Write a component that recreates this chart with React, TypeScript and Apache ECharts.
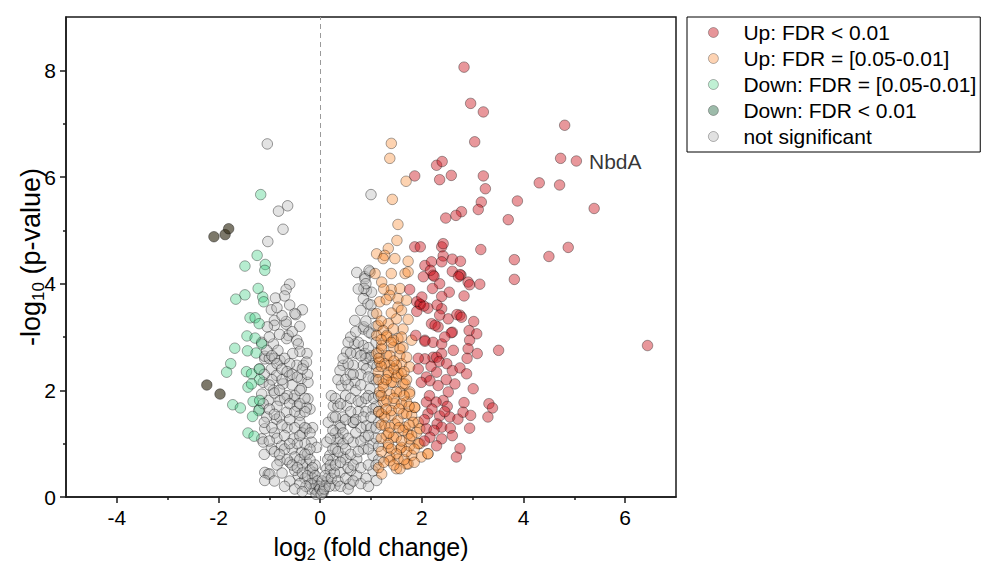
import React, { useEffect, useRef } from "react";
import * as echarts from "echarts";

const FONT = "'Liberation Sans', Arial, sans-serif";

const xMajorTicks = [-4, -2, 0, 2, 4, 6];
const xMinorTicks = [-3, -1, 1, 3, 5];
const yMajorTicks = [0, 2, 4, 6, 8];
const yMinorTicks = [1, 3, 5, 7];

const legendNames = [
  "Up: FDR < 0.01",
  "Up: FDR = [0.05-0.01]",
  "Down: FDR = [0.05-0.01]",
  "Down: FDR < 0.01",
  "not significant",
];

const labelledGene = { name: "NbdA", x: 5.04, y: 6.3 };

const upStrong = [
  [2.83, 8.06], [2.96, 7.38], [3.21, 7.22], [4.81, 6.97], [3.04, 6.66], [4.73, 6.35],
  [2.29, 6.22], [2.40, 6.29], [1.86, 6.02], [2.58, 6.03], [2.35, 5.95], [3.21, 6.02],
  [3.25, 5.78], [4.31, 5.89], [4.71, 5.85], [3.88, 5.55], [3.17, 5.53], [3.11, 5.39],
  [5.39, 5.41], [2.78, 5.35], [2.67, 5.28], [2.47, 5.23], [3.70, 5.20], [1.86, 4.69],
  [1.97, 4.69], [2.39, 4.69], [2.42, 4.75], [3.16, 4.64], [3.82, 4.45], [4.50, 4.51],
  [4.88, 4.68], [3.82, 4.08], [6.44, 2.84], [3.51, 2.75], [2.06, 4.34], [2.19, 4.41],
  [2.42, 4.52], [2.60, 4.46], [2.76, 4.42], [2.77, 4.16], [2.22, 4.16], [2.03, 4.13],
  [2.91, 4.03], [3.14, 3.99], [2.35, 4.00], [2.21, 3.91], [2.54, 3.84], [2.39, 3.76],
  [2.83, 3.77], [1.96, 3.62], [2.12, 3.54], [2.75, 3.41], [2.52, 3.34], [3.02, 3.29],
  [2.19, 3.25], [2.32, 3.19], [2.93, 3.12], [3.08, 3.06], [2.60, 3.09], [1.88, 3.03],
  [2.06, 2.94], [2.94, 2.94], [2.91, 2.78], [3.09, 2.69], [2.22, 2.62], [2.39, 2.69],
  [2.06, 2.59], [2.39, 4.41], [2.17, 4.25], [2.60, 4.23], [2.75, 4.17], [2.72, 4.13],
  [2.24, 4.14], [2.94, 3.98], [1.76, 3.89], [1.90, 3.66], [1.97, 3.61], [2.04, 3.58],
  [1.90, 3.48], [2.39, 3.53], [2.35, 3.41], [2.69, 3.42], [2.78, 3.37], [2.26, 3.22],
  [2.06, 2.92], [2.22, 2.90], [2.58, 3.08], [2.39, 2.87], [1.93, 2.60], [2.29, 2.62],
  [2.34, 2.54], [2.49, 2.50], [1.93, 2.40], [2.60, 2.37], [2.75, 2.42], [2.89, 2.60],
  [2.88, 2.31], [2.29, 2.34], [2.09, 2.25], [1.99, 2.15], [2.16, 2.18], [2.32, 2.09],
  [2.65, 2.12], [2.52, 1.97], [3.01, 2.03], [2.42, 1.81], [2.09, 1.78], [2.28, 1.78],
  [2.50, 1.70], [2.83, 1.77], [3.32, 1.75], [3.39, 1.67], [2.12, 1.56], [2.35, 1.52],
  [2.55, 1.50], [2.71, 1.46], [2.81, 1.59], [2.96, 1.53], [3.30, 1.50], [2.30, 1.37],
  [2.39, 1.31], [2.09, 1.28], [2.24, 1.25], [2.56, 1.29], [2.94, 1.29], [2.16, 1.12],
  [2.39, 1.09], [2.29, 0.96], [2.75, 0.91], [2.68, 0.75],
  [2.05, 1.45], [2.20, 1.65], [2.15, 1.90], [2.45, 1.60], [2.05, 1.05], [2.60, 1.15],
  [2.00, 3.75], [2.30, 3.60], [2.48, 2.20], [2.18, 2.45], [2.62, 2.75], [2.45, 3.00],
];

const upModerate = [
  [1.40, 6.63], [1.37, 6.35], [1.69, 5.92], [1.42, 5.58], [1.53, 5.11], [1.51, 4.81],
  [1.34, 4.66], [1.11, 4.56], [1.27, 4.53], [1.47, 4.47], [1.73, 4.42], [1.24, 4.47],
  [1.08, 4.19], [1.40, 4.19], [1.67, 4.19], [1.73, 4.22], [1.21, 4.03], [1.40, 3.89],
  [1.57, 3.91], [1.37, 3.78], [1.53, 3.72], [1.17, 3.66], [1.70, 3.69], [1.53, 3.56],
  [1.11, 3.44], [1.50, 3.34], [1.73, 3.33], [1.34, 3.25], [1.14, 3.22], [1.63, 3.15],
  [1.24, 3.12], [1.44, 3.15], [1.80, 2.94], [1.11, 3.03], [1.31, 3.00], [1.53, 2.97],
  [1.21, 2.84], [1.44, 2.81], [1.63, 2.81], [1.11, 2.69], [1.31, 2.65], [1.57, 2.65],
  [1.17, 2.53], [1.37, 2.47], [1.60, 2.50], [1.14, 2.34], [1.34, 2.28], [1.53, 2.31],
  [1.24, 2.12], [1.44, 2.15], [1.63, 2.12], [1.17, 1.97], [1.37, 1.93], [1.57, 1.97],
  [1.76, 1.97], [1.24, 1.78], [1.47, 1.75], [1.70, 1.78], [1.86, 1.68], [1.21, 1.56],
  [1.40, 1.53], [1.63, 1.56], [1.80, 1.53], [1.27, 1.34], [1.47, 1.37], [1.67, 1.31],
  [1.93, 1.40], [1.31, 1.15], [1.50, 1.12], [1.73, 1.18], [1.90, 1.21], [1.34, 0.93],
  [1.57, 0.90], [1.76, 0.96], [1.96, 1.00], [1.37, 0.75], [1.53, 0.71], [1.73, 0.62],
  [2.12, 0.81], [1.50, 0.53], [1.21, 0.43], [1.99, 0.75], [1.31, 3.03], [1.44, 2.94],
  [1.21, 2.78], [1.57, 2.78], [1.37, 2.65], [1.70, 2.62], [1.27, 2.50], [1.50, 2.47],
  [1.76, 2.44], [1.34, 2.34], [1.60, 2.31], [1.40, 2.15], [1.67, 2.12], [1.24, 2.06],
  [1.50, 1.97], [1.76, 1.93], [1.31, 1.81], [1.60, 1.75], [1.86, 1.68], [1.40, 1.62],
  [1.70, 1.56], [1.27, 1.50], [1.53, 1.43], [1.83, 1.40], [1.37, 1.31], [1.63, 1.25],
  [1.96, 1.28], [1.44, 1.12], [1.76, 1.09], [1.34, 1.00], [1.60, 0.93], [1.93, 1.00],
  [1.50, 0.81], [1.80, 0.78], [2.12, 0.81], [1.37, 0.68], [1.70, 0.62], [1.57, 0.53],
  [1.15, 0.55], [1.25, 0.65], [1.45, 0.60], [1.65, 0.70], [1.85, 0.65], [1.20, 0.85],
  [1.40, 0.90], [1.70, 0.85], [1.85, 0.90], [1.20, 1.10], [1.35, 1.20], [1.60, 1.05],
  [1.80, 1.15], [1.20, 1.35], [1.55, 1.30], [1.75, 1.35], [1.15, 1.60], [1.30, 1.65],
  [1.55, 1.65], [1.75, 1.70], [1.20, 1.90], [1.45, 1.85], [1.65, 1.90], [1.15, 2.20],
  [1.30, 2.20], [1.50, 2.25], [1.70, 2.20], [1.20, 2.45], [1.45, 2.40], [1.65, 2.35],
  [1.15, 2.60], [1.45, 2.55], [1.20, 2.95], [1.40, 2.90], [1.60, 3.00], [1.20, 3.30],
  [1.40, 3.45], [1.60, 3.50], [1.30, 3.70], [1.25, 3.90],
];

const downModerate = [
  [-1.17, 5.67], [-1.24, 4.53], [-1.48, 4.33], [-1.08, 4.36], [-1.09, 4.25], [-1.22, 3.91],
  [-1.48, 3.79], [-1.66, 3.71], [-1.13, 3.75], [-1.11, 3.66], [-1.38, 3.36], [-1.28, 3.36],
  [-1.20, 3.25], [-1.44, 3.02], [-1.28, 2.98], [-1.15, 2.87], [-1.68, 2.79], [-1.43, 2.74],
  [-1.26, 2.70], [-1.76, 2.50], [-1.84, 2.34], [-1.45, 2.35], [-1.35, 2.31], [-1.20, 2.40],
  [-1.19, 2.20], [-1.42, 2.06], [-1.35, 2.12], [-1.32, 1.79], [-1.19, 1.81], [-1.72, 1.73],
  [-1.57, 1.67], [-1.21, 1.62], [-1.33, 1.51], [-1.42, 1.20], [-1.30, 1.14],
];

const downStrong = [
  [-2.09, 4.88], [-1.87, 4.92], [-1.80, 5.03], [-2.23, 2.10], [-1.97, 1.93],
];

const notSignificant = [
  [-1.04, 6.62], [-0.82, 5.36], [-0.64, 5.46], [-0.73, 5.02], [-1.03, 4.79], [-0.60, 3.99],
  [-0.67, 3.89], [-0.88, 3.73], [-0.70, 3.77], [-0.96, 3.51], [-0.35, 3.51], [-0.48, 3.42],
  [-0.90, 3.31], [-0.90, 3.22], [-0.67, 3.24], [-1.04, 3.19], [-0.50, 3.44], [-0.67, 3.29],
  [-0.46, 2.94], [-0.63, 3.03], [-0.26, 2.69], [-0.33, 2.47], [-0.37, 2.22], [-0.24, 1.84],
  [-0.20, 1.65], [-1.09, 2.59], [-1.15, 1.09], [-1.09, 0.46], [-1.02, 0.43],
  [-1.09, 2.64], [-0.92, 2.87], [-0.66, 2.97], [-0.43, 2.87], [-0.40, 2.73], [-0.54, 2.69],
  [-0.79, 2.56], [-0.96, 2.40], [-0.60, 2.28], [-0.24, 2.15], [-0.37, 2.03], [-0.73, 2.12],
  [-0.92, 2.00], [-1.02, 1.81], [-0.79, 1.81], [-0.53, 1.84], [-0.27, 1.68], [-0.40, 1.53],
  [-0.66, 1.59], [-0.86, 1.46], [-1.09, 1.28], [-1.12, 1.03], [-0.96, 0.90], [-0.76, 0.96],
  [-0.53, 1.09], [-0.27, 1.28], [-0.17, 1.03], [-0.07, 0.93], [-0.37, 0.84], [-0.60, 0.65],
  [-0.79, 0.68], [-0.99, 0.43], [-1.09, 0.31], [-0.27, 0.65], [-0.14, 0.46], [-0.07, 0.21],
  [-0.43, 0.40], [-0.20, 0.15], [-1.15, 1.93], [-1.19, 1.65], [-1.19, 2.40], [-1.12, 2.15],
  [-0.86, 2.28], [-0.46, 2.47], [-0.27, 2.53], [-0.83, 2.75],
  [-0.05, 0.10], [-0.10, 0.25], [-0.15, 0.35], [-0.20, 0.50], [-0.25, 0.80], [-0.30, 1.00],
  [-0.35, 1.20], [-0.40, 1.40], [-0.45, 1.70], [-0.50, 1.90], [-0.55, 2.10], [-0.60, 2.50],
  [-0.70, 2.60], [-0.75, 2.20], [-0.80, 1.50], [-0.85, 1.70], [-0.90, 1.20], [-0.95, 2.20],
  [-1.00, 2.60], [-1.05, 1.50], [-0.65, 1.30], [-0.55, 0.90], [-0.45, 1.00], [-0.35, 0.60],
  [-0.30, 0.35], [-0.20, 0.90], [-0.15, 1.30], [-0.10, 0.60], [-0.50, 0.50], [-0.70, 0.90],
  [-0.85, 0.60], [-1.10, 0.80], [-0.90, 2.60], [-0.65, 1.90], [-0.40, 2.00], [-0.30, 1.60],
  [-0.25, 2.30],
  [-1.15, 2.90], [-1.05, 2.75], [-0.95, 2.65], [-0.85, 2.50], [-0.75, 2.40], [-0.65, 2.35],
  [-0.55, 2.30], [-0.45, 2.25], [-0.35, 2.40], [-1.10, 2.30], [-1.00, 2.10], [-0.90, 1.95],
  [-0.80, 2.00], [-0.70, 1.85], [-0.60, 1.75], [-0.50, 1.60], [-0.40, 1.75], [-0.30, 1.85],
  [-1.12, 1.75], [-1.00, 1.65], [-0.90, 1.55], [-0.75, 1.35], [-0.60, 1.45], [-0.50, 1.30],
  [-0.40, 1.15], [-0.30, 1.30], [-0.20, 1.20], [-1.10, 1.40], [-0.95, 1.30], [-0.85, 1.10],
  [-0.70, 1.15], [-0.60, 1.00], [-0.50, 0.75], [-0.40, 0.70], [-0.30, 0.80], [-0.20, 0.70],
  [-1.00, 1.05], [-0.90, 0.85], [-0.80, 0.80], [-0.65, 0.70], [-0.55, 0.60], [-0.45, 0.55],
  [-0.35, 0.45], [-0.25, 0.40], [-0.15, 0.55], [-0.10, 0.40], [-0.05, 0.30], [-0.12, 0.15],
  [-0.08, 0.05], [-0.02, 0.20], [-0.18, 0.25], [-0.28, 0.20], [-0.40, 0.25], [-0.60, 0.30],
  [-0.75, 0.45], [-0.90, 0.30], [-0.70, 0.20], [-0.50, 0.15], [-0.35, 0.10], [-1.00, 3.00],
  [-0.80, 3.05], [-0.55, 3.10], [-0.40, 3.20], [-0.75, 3.40], [-0.60, 3.60], [-0.85, 3.55],
  [1.00, 5.67], [0.72, 4.21], [0.88, 4.13], [0.98, 4.22], [0.91, 3.87], [1.01, 3.84],
  [0.85, 3.72], [0.94, 3.62], [1.04, 3.44], [0.68, 3.31], [0.85, 3.15], [1.01, 3.06],
  [0.68, 2.87], [0.85, 2.84], [0.52, 2.72], [0.72, 2.69], [0.98, 2.62], [0.45, 2.47],
  [0.65, 2.47], [0.85, 2.47], [1.04, 2.50], [0.96, 4.25], [0.88, 4.09], [0.86, 3.91],
  [0.86, 3.19], [0.96, 3.09],
  [0.88, 2.69], [0.39, 2.37], [0.91, 2.40], [0.22, 1.90], [0.42, 2.09], [0.68, 2.15],
  [0.98, 2.03], [0.26, 1.71], [0.52, 1.71], [0.81, 1.78], [1.04, 1.65], [0.16, 1.40],
  [0.39, 1.34], [0.65, 1.40], [0.91, 1.34], [0.13, 1.03], [0.39, 1.09], [0.65, 1.03],
  [0.88, 1.12], [1.04, 1.00], [0.19, 0.78], [0.45, 0.75], [0.72, 0.71], [1.04, 0.78],
  [0.13, 0.53], [0.39, 0.46], [0.72, 0.40], [1.04, 0.49], [1.11, 0.31], [0.13, 0.28],
  [0.29, 0.21], [0.58, 0.24], [0.06, 0.09], [0.00, 0.15], [1.01, 2.65], [1.04, 2.22],
  [0.05, 0.10], [0.10, 0.20], [0.15, 0.35], [0.20, 0.50], [0.25, 0.70], [0.30, 0.90],
  [0.35, 1.10], [0.40, 1.30], [0.45, 1.50], [0.50, 1.90], [0.55, 2.10], [0.60, 2.30],
  [0.70, 2.00], [0.75, 1.60], [0.80, 1.30], [0.85, 0.90], [0.90, 1.60], [0.95, 1.90],
  [1.00, 1.30], [1.10, 1.10], [1.15, 0.70], [0.60, 0.50], [0.50, 0.70], [0.45, 1.00],
  [0.30, 1.20], [0.25, 1.50], [0.35, 1.70], [0.20, 1.10], [0.15, 0.70], [0.65, 1.40],
  [0.80, 2.30], [0.90, 2.60], [0.55, 2.50], [0.75, 2.90], [0.60, 3.00], [1.10, 2.20],
  [1.10, 1.70], [1.15, 1.40], [1.15, 2.70],
  [0.02, 0.05], [0.08, 0.15], [0.04, 0.30], [0.10, 0.40], [0.18, 0.20], [0.22, 0.35],
  [0.28, 0.45], [0.35, 0.30], [0.40, 0.20], [0.50, 0.35], [0.55, 0.15], [0.65, 0.30],
  [0.80, 0.25], [0.90, 0.35], [0.95, 0.20], [0.20, 0.60], [0.30, 0.60], [0.40, 0.65],
  [0.55, 0.55], [0.65, 0.60], [0.80, 0.55], [0.95, 0.60], [1.10, 0.60], [0.25, 0.90],
  [0.35, 0.85], [0.50, 0.90], [0.60, 0.80], [0.75, 0.85], [0.95, 0.90], [1.15, 0.95],
  [0.25, 1.25], [0.45, 1.20], [0.55, 1.10], [0.70, 1.20], [0.80, 1.05], [0.95, 1.15],
  [1.10, 1.30], [0.30, 1.50], [0.50, 1.45], [0.60, 1.60], [0.70, 1.45], [0.85, 1.50],
  [1.00, 1.50], [1.15, 1.60], [0.30, 1.85], [0.40, 1.75], [0.60, 1.85], [0.75, 1.80],
  [0.90, 1.85], [1.05, 1.85], [1.15, 1.90], [0.35, 2.20], [0.50, 2.20], [0.65, 2.30],
  [0.80, 2.10], [0.95, 2.25], [1.12, 2.45], [0.45, 2.60], [0.60, 2.70], [0.80, 2.65],
  [0.95, 2.80], [1.10, 2.90], [0.55, 2.90], [0.70, 3.10], [0.90, 3.30], [1.00, 3.60],
  [0.80, 3.50], [1.10, 3.20], [0.90, 4.00], [0.75, 3.90],
];

const seriesStyles = [
  { fill: "rgba(202,19,28,0.55)", border: "rgba(0,0,0,0.55)", legend: "#e07a80" },
  { fill: "rgba(250,133,40,0.45)", border: "rgba(0,0,0,0.55)", legend: "#fdc8a0" },
  { fill: "rgba(53,204,124,0.45)", border: "rgba(0,0,0,0.55)", legend: "#b0ecc9" },
  { fill: "rgba(50,44,22,0.8)", border: "rgba(0,0,0,0.6)", legend: "#84aa95" },
  { fill: "rgba(185,185,185,0.5)", border: "rgba(0,0,0,0.62)", legend: "#dadada" },
];

export default function App() {
  const ref = useRef<HTMLDivElement>(null);

  useEffect(() => {
    if (!ref.current) return;
    const chart = echarts.init(ref.current, null, { renderer: "svg" });

    const mkSeries = (idx: number, data: any[], extra: any = {}) => ({
      name: legendNames[idx],
      type: "scatter",
      data,
      symbol: "circle",
      symbolSize: 10.5,
      itemStyle: { color: seriesStyles[idx].fill, borderColor: seriesStyles[idx].border, borderWidth: 0.8 },
      emphasis: { disabled: true },
      ...extra,
    });

    const redData: any[] = upStrong.map((p) => p);
    redData.push({
      value: [labelledGene.x, labelledGene.y],
      label: {
        show: true,
        formatter: labelledGene.name,
        position: "right",
        distance: 7,
        fontSize: 21,
        fontFamily: FONT,
        color: "#000",
      },
    });

    const axisLineStyle = { color: "#1a1a1a", width: 1.5 };
    const xNameRich = {
      a: { fontSize: 25, lineHeight: 30, verticalAlign: "middle", fontFamily: FONT, color: "#000" },
      s: { fontSize: 16, lineHeight: 16, verticalAlign: "bottom", fontFamily: FONT, color: "#000" },
    };
    const yNameRich = {
      a: { fontSize: 27, lineHeight: 32, verticalAlign: "middle", fontFamily: FONT, color: "#000" },
      s: { fontSize: 17, lineHeight: 17, verticalAlign: "bottom", fontFamily: FONT, color: "#000" },
    };

    const option: any = {
      animation: false,
      backgroundColor: "#fff",
      grid: {
        left: 66,
        top: 17,
        width: 610,
        height: 481,
        show: true,
        borderColor: "#1a1a1a",
        borderWidth: 1.5,
        backgroundColor: "transparent",
      },
      xAxis: [
        {
          type: "value",
          min: -5,
          max: 7,
          position: "bottom",
          axisLine: { show: true, onZero: false, lineStyle: axisLineStyle },
          axisTick: { show: true, length: 6, customValues: xMajorTicks, lineStyle: axisLineStyle },
          axisLabel: { customValues: xMajorTicks, fontSize: 21, color: "#000", margin: 10, fontFamily: FONT },
          splitLine: { show: false },
          name: "{a|log}{s|2}{a| (fold change)}",
          nameLocation: "middle",
          nameGap: 35,
          nameMoveOverlap: false,
          nameTextStyle: { fontFamily: FONT, color: "#000", rich: xNameRich },
        },
        {
          type: "value",
          min: -5,
          max: 7,
          position: "bottom",
          axisLine: { show: false, onZero: false },
          axisTick: { show: true, length: 3, customValues: xMinorTicks, lineStyle: axisLineStyle },
          axisLabel: { show: false },
          splitLine: { show: false },
        },
      ],
      yAxis: [
        {
          type: "value",
          min: 0,
          max: 9,
          position: "left",
          axisLine: { show: true, onZero: false, lineStyle: axisLineStyle },
          axisTick: { show: true, length: 6, customValues: yMajorTicks, lineStyle: axisLineStyle },
          axisLabel: { customValues: yMajorTicks, fontSize: 21, color: "#000", margin: 10, fontFamily: FONT },
          splitLine: { show: false },
          name: "{a|-log}{s|10}{a| (p-value)}",
          nameLocation: "middle",
          nameGap: 19,
          nameMoveOverlap: false,
          nameTextStyle: { fontFamily: FONT, color: "#000", rich: yNameRich },
        },
        {
          type: "value",
          min: 0,
          max: 9,
          position: "left",
          axisLine: { show: false, onZero: false },
          axisTick: { show: true, length: 3, customValues: yMinorTicks, lineStyle: axisLineStyle },
          axisLabel: { show: false },
          splitLine: { show: false },
        },
      ],
      legend: {
        orient: "vertical",
        left: 687,
        top: 17,
        padding: [5, 4, 5, 21],
        itemWidth: 10,
        itemHeight: 10,
        itemGap: 5,
        borderColor: "#000",
        borderWidth: 1,
        selectedMode: false,
        textStyle: { fontSize: 21, lineHeight: 21, fontFamily: FONT, color: "#000", padding: [0, 0, 0, 20] },
        data: legendNames.map((n, i) => ({
          name: n,
          icon: "circle",
          itemStyle: { color: seriesStyles[i].legend, borderColor: "rgba(0,0,0,0.45)", borderWidth: 0.8 },
        })),
      },
      series: [
        mkSeries(4, notSignificant, {
          markLine: {
            silent: true,
            symbol: ["none", "none"],
            label: { show: false },
            lineStyle: { color: "#9a9a9a", type: [5, 4], width: 1 },
            data: [{ xAxis: 0 }],
          },
        }),
        mkSeries(1, upModerate),
        mkSeries(0, redData),
        mkSeries(2, downModerate),
        mkSeries(3, downStrong),
      ],
    };

    chart.setOption(option);
    return () => chart.dispose();
  }, []);

  return (
    <div
      ref={ref}
      style={{ position: "absolute", left: 0, top: 0, width: 981, height: 567 }}
    />
  );
}
